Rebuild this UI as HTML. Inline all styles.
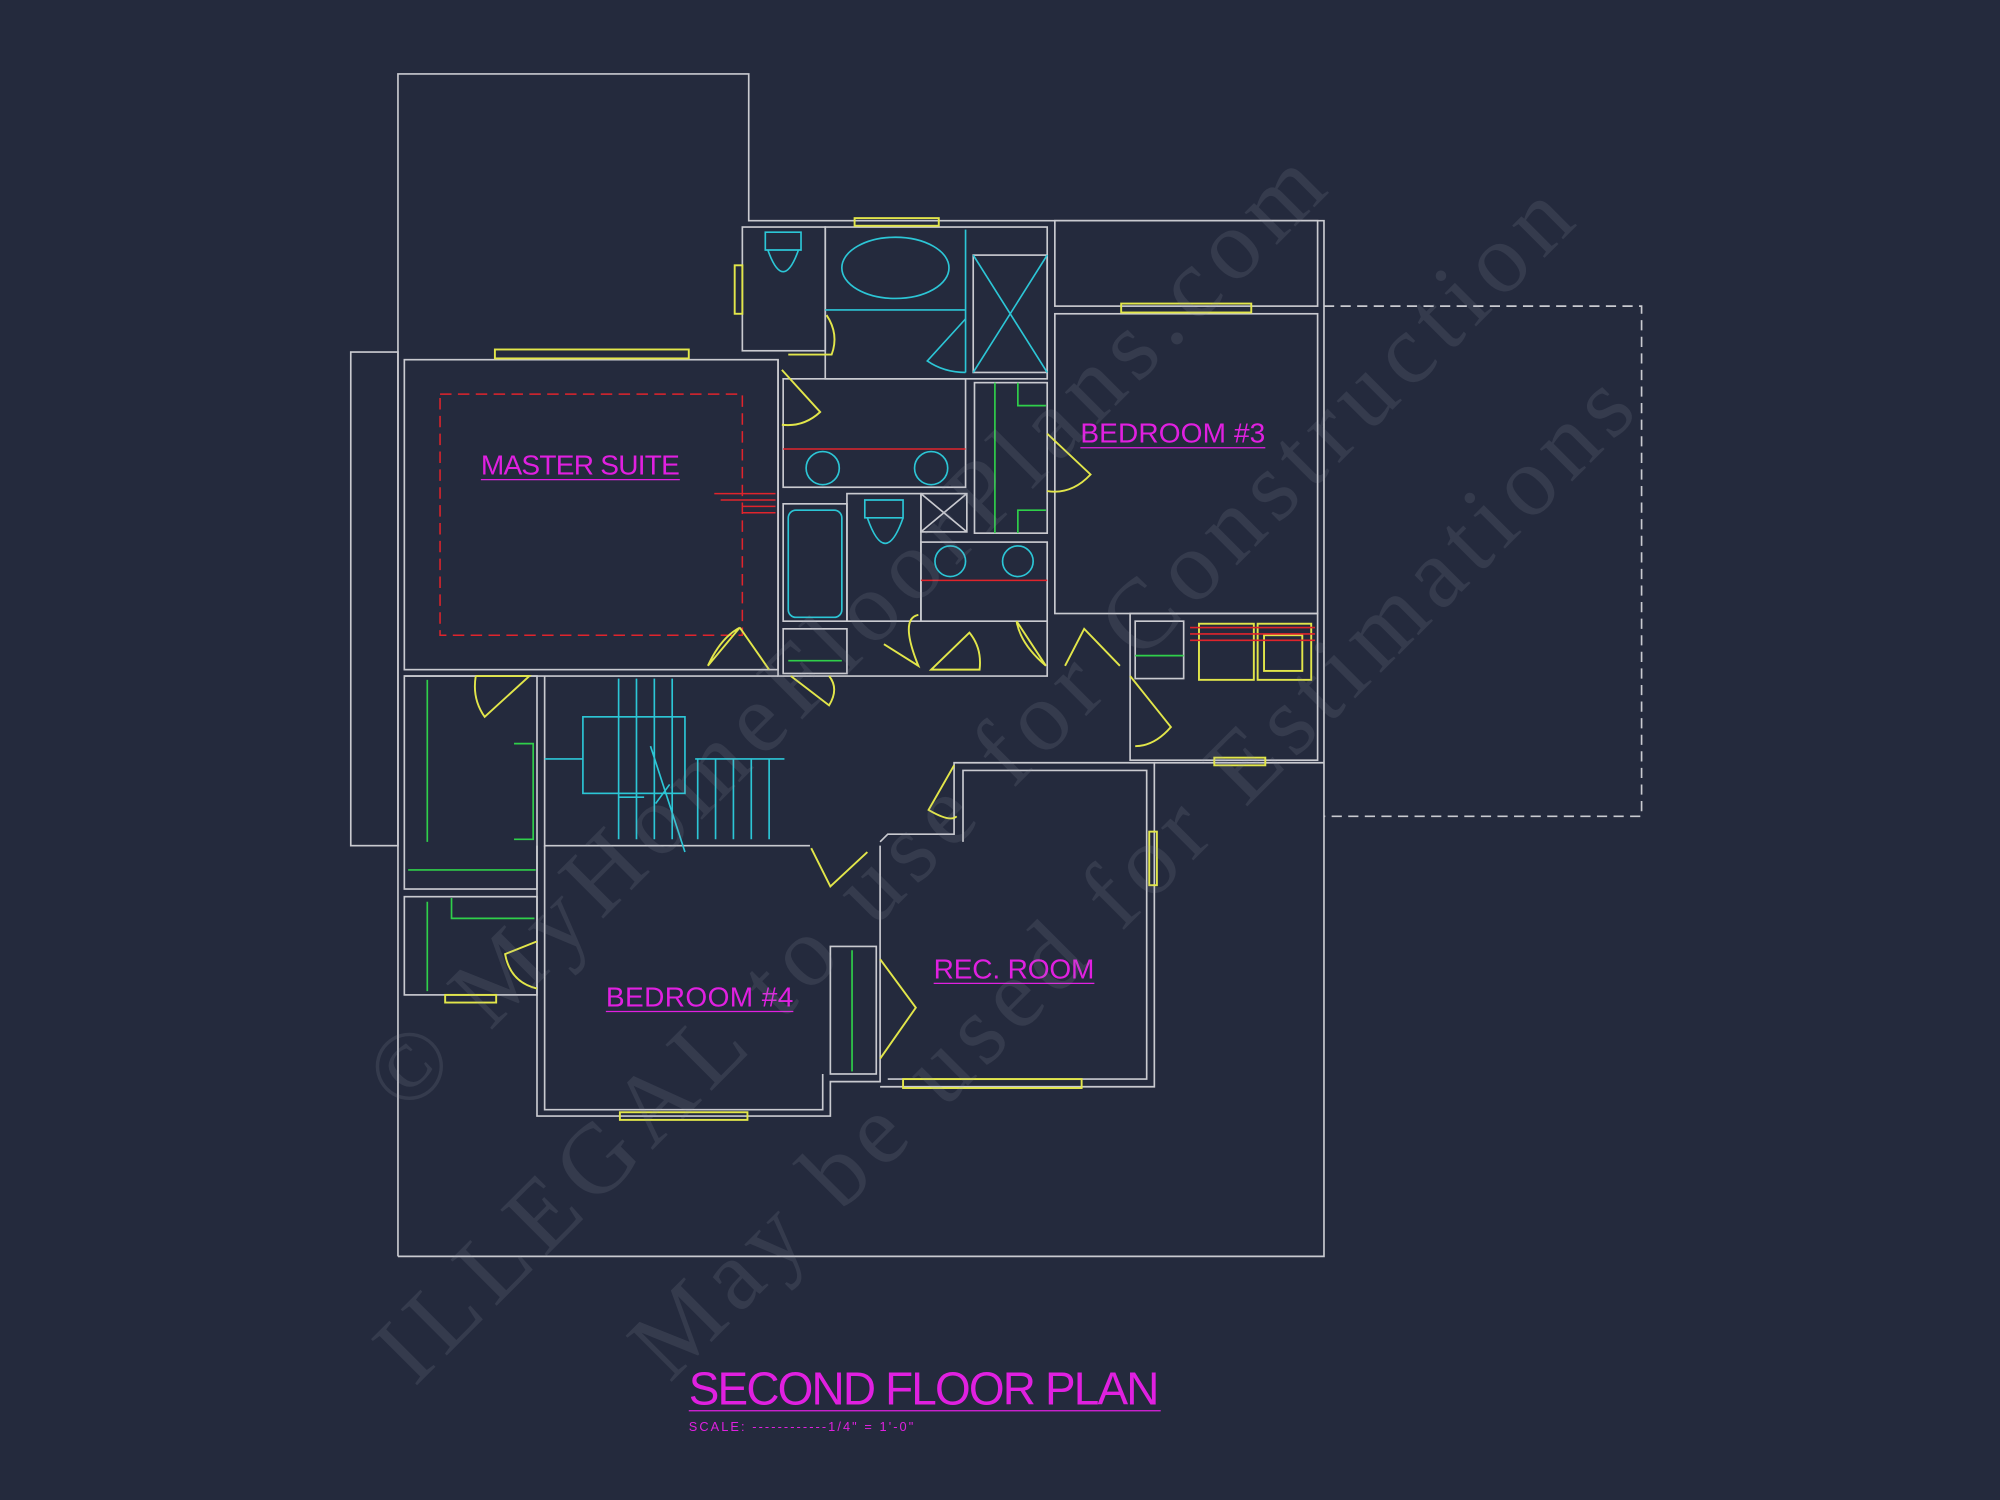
<!DOCTYPE html>
<html><head><meta charset="utf-8"><style>
html,body{margin:0;padding:0;background:#242a3d;width:2000px;height:1500px;overflow:hidden}
svg{display:block}
.w{fill:none;stroke:#c9cad0;stroke-width:1.3}
.y{fill:none;stroke:#e2e64a;stroke-width:1.5}
.c{fill:none;stroke:#2cc6d6;stroke-width:1.3}
.g{fill:none;stroke:#2fd04a;stroke-width:1.3}
.r{fill:none;stroke:#e0242c;stroke-width:1.2}
.lbl{font-family:"Liberation Sans",sans-serif;fill:#e020e0;font-size:22px}
.wm{font-family:"Liberation Serif",serif;fill:#9aa0ae;opacity:0.14;font-size:78px}
</style></head><body>
<svg width="2000" height="1500" viewBox="0 0 1568 1176" xmlns="http://www.w3.org/2000/svg">
<rect width="1568" height="1176" fill="#242a3d"/>
<polyline class="w" points="312,985 312,58 587,58 587,173 1038,173 1038,985 312,985"/>
<rect class="w" x="275" y="276" width="37" height="387"/>
<polyline class="w" points="1038,240 1287,240 1287,640 1038,640" stroke-dasharray="8,5"/>
<rect class="w" x="317" y="282" width="293" height="243"/>
<polyline class="w" points="317,530 610,530"/>
<rect class="r" x="345" y="309" width="237" height="189" stroke-dasharray="9,5"/>
<path class="r" d="M560 387 L608 387 M565 392 L608 392 M582 397 L608 397 M582 402 L608 402"/>
<rect class="w" x="582" y="178" width="65" height="97"/>
<rect class="w" x="647" y="178" width="174" height="119"/>
<rect class="w" x="763" y="200" width="58" height="92"/>
<path class="c" d="M763 200 L821 292 M821 200 L763 292 M757 180 V292 M647 243 H757"/>
<ellipse class="c" cx="702" cy="210" rx="42" ry="24"/>
<path class="c" d="M600 182 h28 v14 h-28 z M602 196 q12 34 24 0" />
<path class="c" d="M757 250 L727 283 Q740 292 757 292"/>
<rect class="w" x="614" y="297" width="143" height="85"/>
<path class="r" d="M614 352 H757"/>
<circle class="c" cx="645" cy="367" r="13"/><circle class="c" cx="730" cy="367" r="13"/>
<rect class="w" x="764" y="300" width="57" height="118"/>
<path class="g" d="M780 300 V418 M798 300 v18 h22 M798 418 v-18 h22"/>
<rect class="w" x="614" y="395" width="50" height="92"/>
<rect class="c" x="618" y="400" width="42" height="84" rx="6"/>
<rect class="w" x="664" y="387" width="58" height="100"/>
<path class="c" d="M678 392 h30 v14 h-30 z M680 406 q14 40 28 0"/>
<rect class="w" x="722" y="387" width="36" height="30"/>
<path class="w" d="M722 387 L758 417 M758 387 L722 417"/>
<rect class="w" x="722" y="425" width="99" height="62"/>
<path class="r" d="M722 455 H821"/>
<circle class="c" cx="745" cy="440" r="12"/><circle class="c" cx="798" cy="440" r="12"/>
<rect class="w" x="614" y="493" width="50" height="35"/>
<path class="g" d="M618 518 H660"/>
<polyline class="w" points="610,282 610,530 614,530 821,530 821,487"/>
<rect class="w" x="827" y="173" width="206" height="67"/>
<rect class="w" x="827" y="246" width="206" height="235"/>
<rect class="w" x="886" y="481" width="147" height="115"/>
<rect class="w" x="890" y="487" width="38" height="45"/>
<path class="g" d="M890 514 H928"/>
<rect class="y" x="940" y="489" width="43" height="44"/><rect class="y" x="986" y="489" width="42" height="44"/><rect class="y" x="991" y="498" width="30" height="28"/>
<path class="r" d="M933 492 H1031 M933 497 H1031 M933 502 H1031"/>
<polyline class="w" points="427,530 427,663 635,663"/>
<rect class="c" x="457" y="562" width="80" height="60" />
<path class="c" d="M485 532 V658 M499 532 V658 M513 532 V658 M527 532 V658 M547 595 V658 M561 595 V658 M575 595 V658 M589 595 V658 M603 595 V658 M545 595 H615 M427 595 H457 M485 625 H505"/>
<path class="c" d="M510 585 L537 668 M514 630 L525 615"/>
<rect class="w" x="317" y="530" width="104" height="167"/>
<path class="g" d="M335 533 V660 M320 682 H420 M403 583 h15 v75 h-15"/>
<rect class="w" x="317" y="703" width="104" height="77"/>
<path class="g" d="M335 707 V777 M354 704 v16 h65"/>
<polyline class="w" points="421,663 421,875 651,875 651,848 690,848 690,663"/>
<polyline class="w" points="427,663 427,870 645,870 645,842"/>
<rect class="w" x="651" y="742" width="36" height="100"/>
<path class="g" d="M668 745 V840"/>
<polyline class="w" points="690,660 696,654 748,654 748,598 905,598 905,852 690,852"/>
<polyline class="w" points="696,846 899,846 899,604 755,604 755,660"/>
<polyline class="w" points="905,598 1038,598"/>
<g class="y">
<rect x="388" y="274" width="152" height="7"/><rect x="670" y="171" width="66" height="6"/><rect x="879" y="238" width="102" height="7"/>
<rect x="576" y="208" width="6" height="38"/><rect x="952" y="594" width="40" height="6"/><rect x="901" y="652" width="6" height="42"/>
<rect x="349" y="780" width="40" height="6"/><rect x="486" y="872" width="100" height="6"/><rect x="708" y="846" width="140" height="7"/>
</g>
<g class="y">
<path d="M613 290 L643 323 Q630 335 613 333"/><path d="M648 247 Q658 262 652 278 L618 278"/>
<path d="M821 340 L855 372 Q840 388 821 385"/>
<path d="M373 530 L415 530 L380 562 Q370 548 373 530"/>
<path d="M580 492 L603 525 M555 522 Q565 500 580 492 L555 522"/>
<path d="M620 530 L650 553 Q658 540 650 530"/>
<path d="M693 505 L720 522 Q705 485 720 482 M693 505 L720 522"/>
<path d="M730 525 L760 496 Q770 508 768 525 Z"/>
<path d="M797 487 L820 522 Q800 505 797 487"/>
<path d="M835 522 L850 493 L878 522"/>
<path d="M886 530 L918 570 Q905 585 890 585"/>
<path d="M748 600 L728 635 Q745 645 750 640"/>
<path d="M636 665 L651 695 L680 668"/>
<path d="M421 738 L396 748 Q400 770 421 775"/>
<path d="M690 752 L718 790 L690 830"/>
</g>
<text class="lbl" x="377" y="372" textLength="156">MASTER SUITE</text><path d="M377 376 H533" stroke="#e020e0"/>
<text class="lbl" x="847" y="347" textLength="145">BEDROOM #3</text><path d="M847 351 H992" stroke="#e020e0"/>
<text class="lbl" x="475" y="789" textLength="147">BEDROOM #4</text><path d="M475 793 H622" stroke="#e020e0"/>
<text class="lbl" x="732" y="767" textLength="126">REC. ROOM</text><path d="M732 771 H858" stroke="#e020e0"/>
<text class="lbl" x="540" y="1101" style="font-size:36px" textLength="369">SECOND FLOOR PLAN</text><path d="M540 1106 H910" stroke="#e020e0"/>
<text class="lbl" x="540" y="1122" style="font-size:10px" textLength="176">SCALE: ------------1/4" = 1'-0"</text>
<text class="wm" transform="translate(318,875) rotate(-45)" textLength="1025">© MyHomeFloorPlans.com</text>
<text class="wm" transform="translate(325,1088) rotate(-45)" textLength="1290">ILLEGAL to use for Construction</text>
<text class="wm" transform="translate(525,1085) rotate(-45)" textLength="1075">May be used for Estimations</text>
</svg>
</body></html>
